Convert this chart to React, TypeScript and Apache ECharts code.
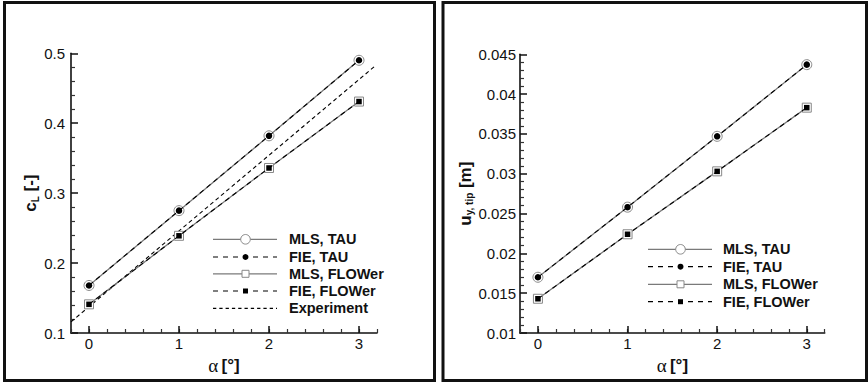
import React, { useEffect, useRef } from 'react';
import * as echarts from 'echarts';

// ---------- data ----------
const alpha = [0, 1, 2, 3];
const clMlsTau = [0.168, 0.275, 0.382, 0.49];
const clFieTau = [0.168, 0.275, 0.382, 0.49];
const clMlsFlower = [0.141, 0.239, 0.336, 0.431];
const clFieFlower = [0.141, 0.239, 0.336, 0.431];
const expAlpha = [-0.2, 3.18];
const clExperiment = [0.116, 0.482];

const uyMlsTau = [0.017, 0.0258, 0.0347, 0.0437];
const uyFieTau = [0.017, 0.0258, 0.0347, 0.0437];
const uyMlsFlower = [0.0143, 0.0224, 0.0303, 0.0383];
const uyFieFlower = [0.0143, 0.0224, 0.0303, 0.0383];

const xMajorTicks = [0, 1, 2, 3];
const leftLegend = ['MLS, TAU', 'FIE, TAU', 'MLS, FLOWer', 'FIE, FLOWer', 'Experiment'];
const rightLegend = ['MLS, TAU', 'FIE, TAU', 'MLS, FLOWer', 'FIE, FLOWer'];
const legendKinds = ['mlsC', 'fieC', 'mlsS', 'fieS', 'exp'];

// ---------- styles ----------
const FONT = '"Liberation Sans", Arial, Helvetica, sans-serif';
const GRAY = '#7a7a7a';
const BLACK = '#000';
const INK = '#111';
const FIE_DASH = [5, 4];
const EXP_DASH = [4, 3];

const pairs = (xs: number[], ys: number[]) => xs.map((x, i) => [x, ys[i]]);

function seriesSet(grid: number, mt: number[], ft: number[], mf: number[], ff: number[]) {
  const xi = grid * 2;
  const yi = grid;
  const base = { type: 'line', xAxisIndex: xi, yAxisIndex: yi, silent: true };
  return [
    {
      ...base,
      name: 'MLS, TAU',
      data: pairs(alpha, mt),
      symbol: 'circle',
      symbolSize: 10,
      lineStyle: { color: GRAY, width: 1.3 },
      itemStyle: { color: '#fff', borderColor: '#888', borderWidth: 1 },
      z: 2,
    },
    {
      ...base,
      name: 'FIE, TAU',
      data: pairs(alpha, ft),
      symbol: 'circle',
      symbolSize: 6.5,
      lineStyle: { color: BLACK, width: 1.1, type: FIE_DASH },
      itemStyle: { color: BLACK },
      z: 3,
    },
    {
      ...base,
      name: 'MLS, FLOWer',
      data: pairs(alpha, mf),
      symbol: 'rect',
      symbolSize: 9,
      lineStyle: { color: GRAY, width: 1.3 },
      itemStyle: { color: '#fff', borderColor: '#888', borderWidth: 1 },
      z: 2,
    },
    {
      ...base,
      name: 'FIE, FLOWer',
      data: pairs(alpha, ff),
      symbol: 'rect',
      symbolSize: 5.5,
      lineStyle: { color: BLACK, width: 1.1, type: FIE_DASH },
      itemStyle: { color: BLACK },
      z: 3,
    },
  ];
}

function xAxes(grid: number) {
  return [
    {
      type: 'value',
      gridIndex: grid,
      position: 'bottom',
      min: -0.2,
      max: 3.2,
      interval: 0.2,
      axisLine: { show: true, onZero: false, lineStyle: { color: INK, width: 1.6 } },
      axisTick: { show: true, inside: true, length: 4, lineStyle: { color: '#333', width: 1.2 } },
      axisLabel: { show: false },
      splitLine: { show: false },
    },
    {
      type: 'value',
      gridIndex: grid,
      position: 'bottom',
      min: -0.2,
      max: 3.2,
      axisLine: { show: false, onZero: false },
      axisTick: { show: true, inside: true, length: 7, customValues: xMajorTicks, lineStyle: { color: INK, width: 1.5 } },
      axisLabel: { show: true, customValues: xMajorTicks, margin: 3, fontSize: 15, color: INK, fontFamily: FONT },
      splitLine: { show: false },
      name: '{a|α} {b|[°]}',
      nameLocation: 'middle',
      nameGap: 13,
      nameTextStyle: {
        rich: {
          a: { fontFamily: '"Liberation Serif", "DejaVu Serif", serif', fontSize: 19, color: INK },
          b: { fontFamily: FONT, fontWeight: 'bold', fontSize: 17, color: INK },
        },
      },
    },
  ];
}

function yAxis(grid: number, min: number, max: number, interval: number, name: string, nameGap: number, margin: number) {
  return {
    type: 'value',
    gridIndex: grid,
    min,
    max,
    interval,
    axisLine: { show: true, onZero: false, lineStyle: { color: INK, width: 1.6 } },
    axisTick: { show: true, inside: true, length: 7, lineStyle: { color: INK, width: 1.5 } },
    minorTick: { show: true, splitNumber: 5, length: 4, lineStyle: { color: '#333', width: 1.2 } },
    axisLabel: { margin, fontSize: 15, color: INK, fontFamily: FONT },
    splitLine: { show: false },
    minorSplitLine: { show: false },
    name,
    nameLocation: 'middle',
    nameGap,
    nameTextStyle: {
      rich: {
        m: { fontFamily: FONT, fontWeight: 'bold', fontSize: 17, color: INK },
        s: { fontFamily: FONT, fontWeight: 'bold', fontSize: 10, color: INK, padding: [9, 0, 0, 0] },
      },
    },
  };
}

function legendGraphics(lineX: number, textX: number, rowY: number[], labels: string[]) {
  const els: any[] = [];
  const x1 = lineX;
  const x2 = lineX + 64;
  const cx = lineX + 32.5;
  labels.forEach((label, i) => {
    const y = rowY[i];
    const kind = legendKinds[i];
    const isMls = kind === 'mlsC' || kind === 'mlsS';
    const isFie = kind === 'fieC' || kind === 'fieS';
    els.push({
      type: 'line',
      silent: true,
      z: 10,
      shape: { x1, y1: y, x2, y2: y },
      style: {
        stroke: isMls ? GRAY : BLACK,
        lineWidth: isMls ? 1.3 : 1.2,
        lineDash: isFie ? [5, 5] : kind === 'exp' ? [3.3, 3] : null,
      },
    });
    if (kind === 'mlsC') {
      els.push({ type: 'circle', z: 11, silent: true, shape: { cx, cy: y, r: 4.8 }, style: { fill: '#fff', stroke: '#888', lineWidth: 1 } });
    } else if (kind === 'fieC') {
      els.push({ type: 'circle', z: 11, silent: true, shape: { cx, cy: y, r: 3 }, style: { fill: BLACK } });
    } else if (kind === 'mlsS') {
      els.push({ type: 'rect', z: 11, silent: true, shape: { x: cx - 3.5, y: y - 3.5, width: 7, height: 7 }, style: { fill: '#fff', stroke: '#888', lineWidth: 1 } });
    } else if (kind === 'fieS') {
      els.push({ type: 'rect', z: 11, silent: true, shape: { x: cx - 2.5, y: y - 2.5, width: 5, height: 5 }, style: { fill: BLACK } });
    }
    els.push({
      type: 'text',
      z: 11,
      silent: true,
      x: textX,
      y,
      style: {
        text: label,
        fontFamily: FONT,
        fontWeight: 'bold',
        fontSize: 14.5,
        fill: INK,
        verticalAlign: 'middle',
        align: 'left',
      },
    });
  });
  return els;
}

export default function App() {
  const ref = useRef<HTMLDivElement>(null);

  useEffect(() => {
    if (!ref.current) return;
    const chart = echarts.init(ref.current, null, { renderer: 'svg' });

    const option: any = {
      animation: false,
      backgroundColor: '#fff',
      grid: [
        { left: 71, top: 53.3, width: 306, height: 279.7 },
        { left: 520, top: 54.3, width: 304.7, height: 278.7 },
      ],
      xAxis: [...xAxes(0), ...xAxes(1)],
      yAxis: [
        yAxis(0, 0.1, 0.5, 0.1, '{m|c}{s|L}{m| [-]}', 26, 6),
        yAxis(1, 0.01, 0.045, 0.005, '{m|u}{s|y, tip}{m| [m]}', 43, 4),
      ],
      series: [
        ...seriesSet(0, clMlsTau, clFieTau, clMlsFlower, clFieFlower),
        {
          type: 'line',
          name: 'Experiment',
          xAxisIndex: 0,
          yAxisIndex: 0,
          silent: true,
          data: pairs(expAlpha, clExperiment),
          symbol: 'none',
          lineStyle: { color: BLACK, width: 1.1, type: EXP_DASH },
          z: 1,
        },
        ...seriesSet(1, uyMlsTau, uyFieTau, uyMlsFlower, uyFieFlower),
      ],
      graphic: [
        { type: 'rect', silent: true, z: 20, shape: { x: 4.5, y: 2.5, width: 430, height: 378 }, style: { fill: 'none', stroke: INK, lineWidth: 3 } },
        { type: 'rect', silent: true, z: 20, shape: { x: 443, y: 2.5, width: 423.5, height: 378 }, style: { fill: 'none', stroke: INK, lineWidth: 3 } },
        ...legendGraphics(213, 289, [239.3, 257, 273.8, 291, 308.3], leftLegend),
        ...legendGraphics(648, 723, [249.3, 266.7, 284.3, 301.7], rightLegend),
      ],
    };

    chart.setOption(option);
    return () => chart.dispose();
  }, []);

  return (
    <div
      ref={ref}
      style={{ position: 'absolute', left: 0, top: 0, width: 868, height: 382, background: '#fff' }}
    />
  );
}
